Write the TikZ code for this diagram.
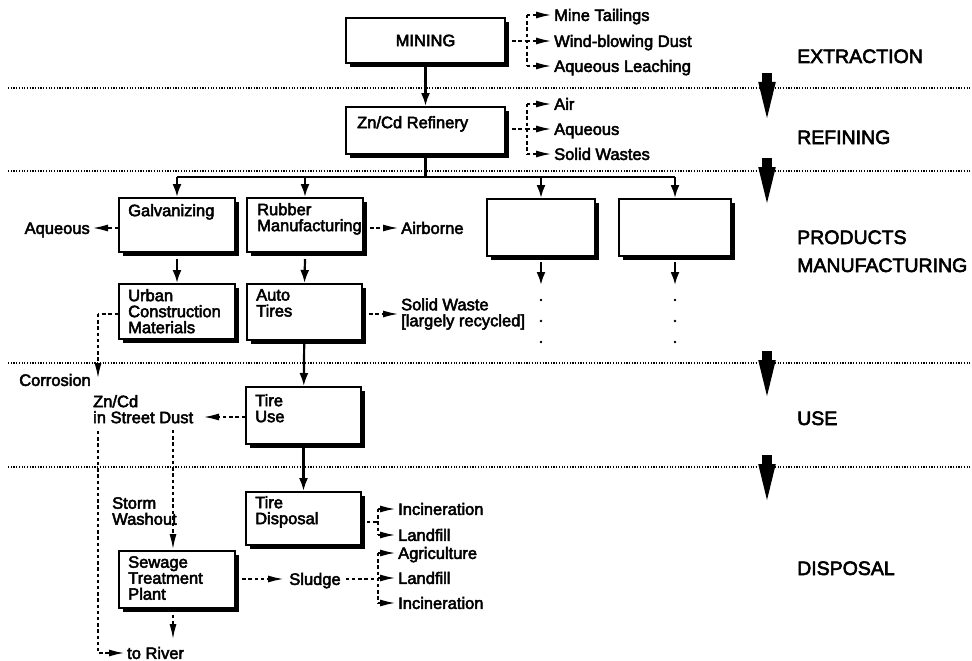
\documentclass[tikz,border=0pt]{standalone}
\usepackage{fontspec}
\setmainfont{Liberation Sans}[FakeBold=3]
\usetikzlibrary{arrows.meta,shadows}
\begin{document}
\begin{tikzpicture}[x=1pt,y=-1pt,
  every node/.style={font=\fontsize{16.5}{16}\selectfont, inner sep=0pt},
  procbox/.style={draw, line width=2pt, fill=white,
    drop shadow={shadow xshift=4pt,shadow yshift=-4pt,fill=black,opacity=1}},
  boxtext/.style={anchor=north west, align=left},
  outlabel/.style={anchor=west, text height=11.8pt, text depth=0pt, inner xsep=2pt},
  stage/.style={anchor=west, text height=14pt, text depth=0pt,
    font=\fontsize{19.5}{22}\selectfont},
  link/.style={line width=2.2pt},
  flow/.style={line width=2.2pt, -{Latex[length=13pt,width=9pt]}},
  leakline/.style={line width=2pt, dash pattern=on 3.4pt off 2.8pt},
  leak/.style={leakline, -{Latex[length=16pt,width=7pt]}},
  stageline/.style={line width=1.1pt, dash pattern=on 1.2pt off 1.5pt},
  stagearrow/.pic={
    \fill (-4.8,0) rectangle (4.8,11);
    \fill (-8.8,9) -- (8.8,9) -- (0,45) -- cycle;
  }
]
\useasboundingbox (0,0) rectangle (972,661);

% stage separators
\foreach \y in {88,171,363,467}
  \draw[stageline] (8,\y) -- (972,\y);

% stage names and arrows
\node[stage] (sExt) at (797,56) {EXTRACTION};
\node[stage] (sRef) at (797,137) {REFINING};
\node[stage] (sProd) at (797,237) {PRODUCTS};
\node[stage] (sMan) at (797,265) {MANUFACTURING};
\node[stage] (sUse) at (797,418) {USE};
\node[stage] (sDis) at (797,568) {DISPOSAL};
\pic at (767,73) {stagearrow};
\pic at (767,158) {stagearrow};
\pic at (767,351) {stagearrow};
\pic at (767,455) {stagearrow};

% process boxes
\node[procbox, minimum width=159pt, minimum height=45pt] (mining) at (425.5,40.5) {MINING};
\node[procbox, minimum width=159pt, minimum height=47pt] (refinery) at (425.5,130.5) {};
\node[boxtext] at ([shift={(12,10)}]refinery.north west) {Zn/Cd Refinery};

\node[procbox, minimum width=116pt, minimum height=54pt] (galv) at (177,225) {};
\node[boxtext] at ([shift={(10,7)}]galv.north west) {Galvanizing};
\node[procbox, minimum width=116pt, minimum height=54pt] (rubber) at (305,225) {};
\node[boxtext] at ([shift={(11,6)}]rubber.north west) {Rubber\\Manufacturing};
\node[procbox, minimum width=108pt, minimum height=57pt] (prodC) at (541,227.5) {};
\node[procbox, minimum width=112pt, minimum height=57pt] (prodD) at (675,227.5) {};

\node[procbox, minimum width=116pt, minimum height=55pt] (urban) at (177,311.5) {};
\node[boxtext] at ([shift={(10,6)}]urban.north west) {Urban\\Construction\\Materials};
\node[procbox, minimum width=115pt, minimum height=56pt] (tires) at (304.5,312) {};
\node[boxtext] at ([shift={(10,6)}]tires.north west) {Auto\\Tires};

\node[procbox, minimum width=115pt, minimum height=57pt] (tireuse) at (303.5,415.5) {};
\node[boxtext] at ([shift={(10,8)}]tireuse.north west) {Tire\\Use};
\node[procbox, minimum width=115pt, minimum height=53pt] (tiredisp) at (303.5,518.5) {};
\node[boxtext] at ([shift={(10,5)}]tiredisp.north west) {Tire\\Disposal};
\node[procbox, minimum width=116pt, minimum height=57pt] (sewage) at (177,579.5) {};
\node[boxtext] at ([shift={(10,6)}]sewage.north west) {Sewage\\Treatment\\Plant};

% main product flow
\draw[flow] (mining) -- (refinery);
\coordinate (bus) at (425.5,177);
\draw[link] (refinery.south) -- (bus);
\draw[link] (galv.north |- bus) -- (prodD.north |- bus);
\foreach \b in {galv,rubber,prodC,prodD}
  \draw[flow] (\b.north |- bus) -- (\b.north);
\draw[flow] ([yshift=-6pt]galv.south) -- (urban.north);
\draw[flow] ([yshift=-6pt]rubber.south) -- (tires.north);
\draw[flow] (tires) -- (tireuse);
\draw[flow] (tireuse) -- (tiredisp);
\foreach \b in {prodC,prodD}{
  \coordinate (\b end) at ([yshift=-28pt]\b.south);
  \draw[flow] ([yshift=-5pt]\b.south) -- (\b end);
  \foreach \d in {15,36,57}
    \fill ([yshift=-\d pt]\b end) circle (1.4);
}

% releases from mining
\node[outlabel] (mTail) at (552,15) {Mine Tailings};
\node[outlabel] (mDust) at (552,41) {Wind-blowing Dust};
\node[outlabel] (mLeach) at (552,66) {Aqueous Leaching};
\coordinate (mj) at (527,41);
\draw[leakline] (mining.east |- mj) -- (mj);
\draw[leakline] (mTail.west -| mj) -- (mLeach.west -| mj);
\foreach \t in {mTail,mDust,mLeach}
  \draw[leak] (\t.west -| mj) -- (\t.west);

% releases from refining
\node[outlabel] (rAir) at (552,104) {Air};
\node[outlabel] (rAq) at (552,129) {Aqueous};
\node[outlabel] (rSolid) at (552,154) {Solid Wastes};
\coordinate (rj) at (527,129);
\draw[leakline] (refinery.east |- rj) -- (rj);
\draw[leakline] (rAir.west -| rj) -- (rSolid.west -| rj);
\foreach \t in {rAir,rAq,rSolid}
  \draw[leak] (\t.west -| rj) -- (\t.west);

% releases from manufacturing
\node[outlabel, anchor=east] (gAq) at (92,228) {Aqueous};
\draw[leak] (galv.west |- gAq.east) -- (gAq.east);
\node[outlabel] (rAirb) at (399,228) {Airborne};
\draw[leak] (rubber.east |- rAirb.west) -- (rAirb.west);
\node[anchor=west, align=left, inner xsep=2pt] (tSolid) at (399,314) {Solid Waste\\{[largely recycled]}};
\draw[leak] (tires.east |- tSolid.west) -- (tSolid.west);

% corrosion of construction materials
\node[outlabel, anchor=east] (corr) at (93,380) {Corrosion};
\coordinate (cj) at (98,314);
\coordinate (ctip) at (98,379);
\draw[leakline] (urban.west |- cj) -- (cj);
\draw[leak] (cj) -- (ctip);

% street dust and storm washout
\node[boxtext] (dust) at (93,395) {Zn/Cd\\in Street Dust};
\node[outlabel, anchor=east] (dustin) at (203,417) {};
\draw[leak] (tireuse.west |- dustin) -- (dustin);
\node[boxtext] (storm) at (112,497) {Storm\\Washout};
\coordinate (dtop) at (173,430);
\draw[leak] (dtop) -- (sewage.north -| dtop);

\node[outlabel] (river) at (125,653) {to River};
\coordinate (lj) at (98,431);
\draw[leak] (lj) |- (river.west);
\coordinate (stop) at (173,640);
\draw[leak] (sewage.south -| stop) ++(0,6) -- (stop);

% sludge
\node[outlabel, anchor=center, inner xsep=5pt] (sludge) at (315,579) {Sludge};
\draw[leak] (sewage.east |- sludge.west) -- (sludge.west);
\node[outlabel] (sAgr) at (396,553) {Agriculture};
\node[outlabel] (sLand) at (396,578) {Landfill};
\node[outlabel] (sInc) at (396,603) {Incineration};
\coordinate (sj) at (378,579);
\draw[leakline] (sludge.east) -- (sj);
\draw[leakline] (sAgr.west -| sj) -- (sInc.west -| sj);
\foreach \t in {sAgr,sLand,sInc}
  \draw[leak] (\t.west -| sj) -- (\t.west);

% tire disposal routes
\node[outlabel] (dInc) at (396,509) {Incineration};
\node[outlabel] (dLand) at (396,535) {Landfill};
\coordinate (dj) at (378,522);
\draw[leakline] ([xshift=5pt]tiredisp.east |- dj) -- (dj);
\draw[leakline] (dInc.west -| dj) -- (dLand.west -| dj);
\foreach \t in {dInc,dLand}
  \draw[leak] (\t.west -| dj) -- (\t.west);
\end{tikzpicture}
\end{document}
